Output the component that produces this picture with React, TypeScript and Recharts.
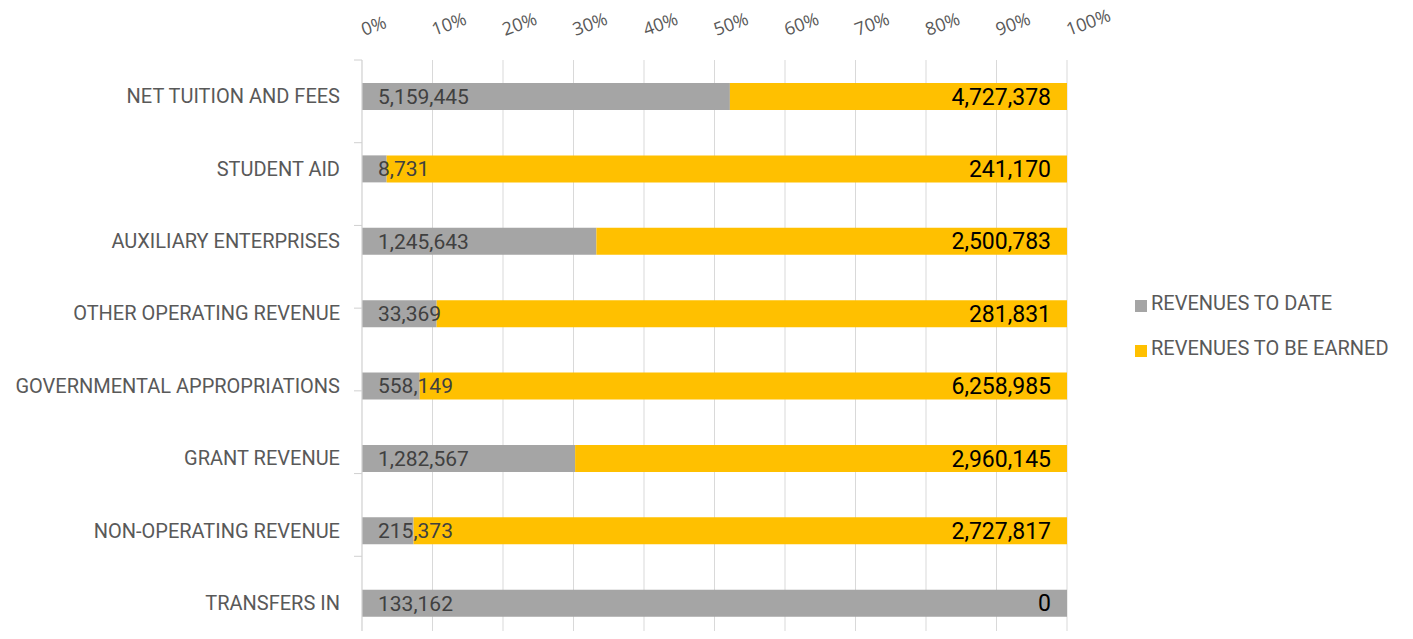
import { Bar, BarChart, CartesianGrid, LabelList, Legend, XAxis, YAxis } from 'recharts';

const categories = [
	'NET TUITION AND FEES',
	'STUDENT AID',
	'AUXILIARY ENTERPRISES',
	'OTHER OPERATING REVENUE',
	'GOVERNMENTAL APPROPRIATIONS',
	'GRANT REVENUE',
	'NON-OPERATING REVENUE',
	'TRANSFERS IN',
];

const revenuesToDate = [5159445, 8731, 1245643, 33369, 558149, 1282567, 215373, 133162];
const revenuesToBeEarned = [4727378, 241170, 2500783, 281831, 6258985, 2960145, 2727817, 0];

const percentTicks = [0, 0.1, 0.2, 0.3, 0.4, 0.5, 0.6, 0.7, 0.8, 0.9, 1];
const bandTicks = [0, 1, 2, 3, 4, 5, 6, 7, 8];

const data = categories.map((name, i) => ({
	name,
	toDate: revenuesToDate[i],
	toBeEarned: revenuesToBeEarned[i],
}));

const FONT = 'Roboto, sans-serif';

const PercentTick = (props: any) => {
	const { x, payload } = props;
	return (
		<text
			x={x + 2}
			y={36}
			transform={`rotate(-20 ${x + 2} 36)`}
			textAnchor='start'
			fill='#595959'
			fontSize={18}
			fontFamily='"Open Sans", sans-serif'
		>
			{`${Math.round(payload.value * 100)}%`}
		</text>
	);
};

const fmt = (v: any) => Number(v).toLocaleString('en-US');

// right-aligned label at the end of the given rect
const EarnedLabel = (props: any) => {
	const { x, y, width, height, value, onlyZero } = props;
	if (onlyZero && Number(value) !== 0) return null;
	return (
		<text
			x={x + width - 16}
			y={y + height / 2}
			dy='0.355em'
			textAnchor='end'
			fill='#000000'
			fontSize={23}
			fontFamily={FONT}
		>
			{fmt(value)}
		</text>
	);
};

export default function App() {
	return (
		<div style={{ margin: -8, background: '#fff' }}>
			<BarChart
				width={1413}
				height={639}
				data={data}
				layout='vertical'
				stackOffset='expand'
				margin={{ top: 0, right: 68, bottom: 0, left: 0 }}
			>
				<CartesianGrid horizontal={false} stroke='#d9d9d9' ticks={percentTicks} yAxisId='cat' />
				<XAxis
					type='number'
					orientation='top'
					domain={[0, 1]}
					ticks={percentTicks}
					height={60}
					axisLine={false}
					tickLine={false}
					tick={<PercentTick />}
					interval={0}
				/>
				{/* band boundary tick marks, Excel style */}
				<YAxis
					yAxisId='bands'
					type='number'
					domain={[0, 8]}
					ticks={bandTicks}
					reversed
					width={10}
					axisLine={{ stroke: '#d9d9d9' }}
					tickLine={{ stroke: '#d0d0d0' }}
					tickSize={8}
					tick={() => <g />}
					orientation='left'
				/>
				<YAxis
					yAxisId='cat'
					type='category'
					dataKey='name'
					width={352}
					axisLine={false}
					tickLine={false}
					tickMargin={6}
					interval={0}
					tick={{ fill: '#595959', fontSize: 20, fontFamily: FONT }}
				/>
				<Legend
					layout='vertical'
					align='right'
					verticalAlign='top'
					iconType='square'
					iconSize={12}
					itemSorter={(item: any) => (item.dataKey === 'toDate' ? 0 : 1)}
					wrapperStyle={{ position: 'absolute', left: 1135, top: 281, width: 278 }}
					formatter={(value) => (
						<span style={{ color: '#595959', fontSize: 20, fontFamily: FONT, lineHeight: '45px' }}>
							{value}
						</span>
					)}
				/>
				<Bar
					yAxisId='cat'
					dataKey='toDate'
					name='REVENUES TO DATE'
					stackId='a'
					fill='#a5a5a5'
					barSize={27}
					isAnimationActive={false}
				>
					<LabelList
						dataKey='toDate'
						position='insideLeft'
						offset={16}
						formatter={fmt}
						fill='#404040'
						fontSize={21}
						fontFamily={FONT}
					/>
					{/* a zero segment draws no rect, so its label sits at the end of the grey one */}
					<LabelList dataKey='toBeEarned' content={<EarnedLabel onlyZero />} />
				</Bar>
				<Bar
					yAxisId='cat'
					dataKey='toBeEarned'
					name='REVENUES TO BE EARNED'
					stackId='a'
					fill='#ffc000'
					barSize={27}
					isAnimationActive={false}
				>
					<LabelList dataKey='toBeEarned' content={<EarnedLabel />} />
				</Bar>
			</BarChart>
		</div>
	);
}
